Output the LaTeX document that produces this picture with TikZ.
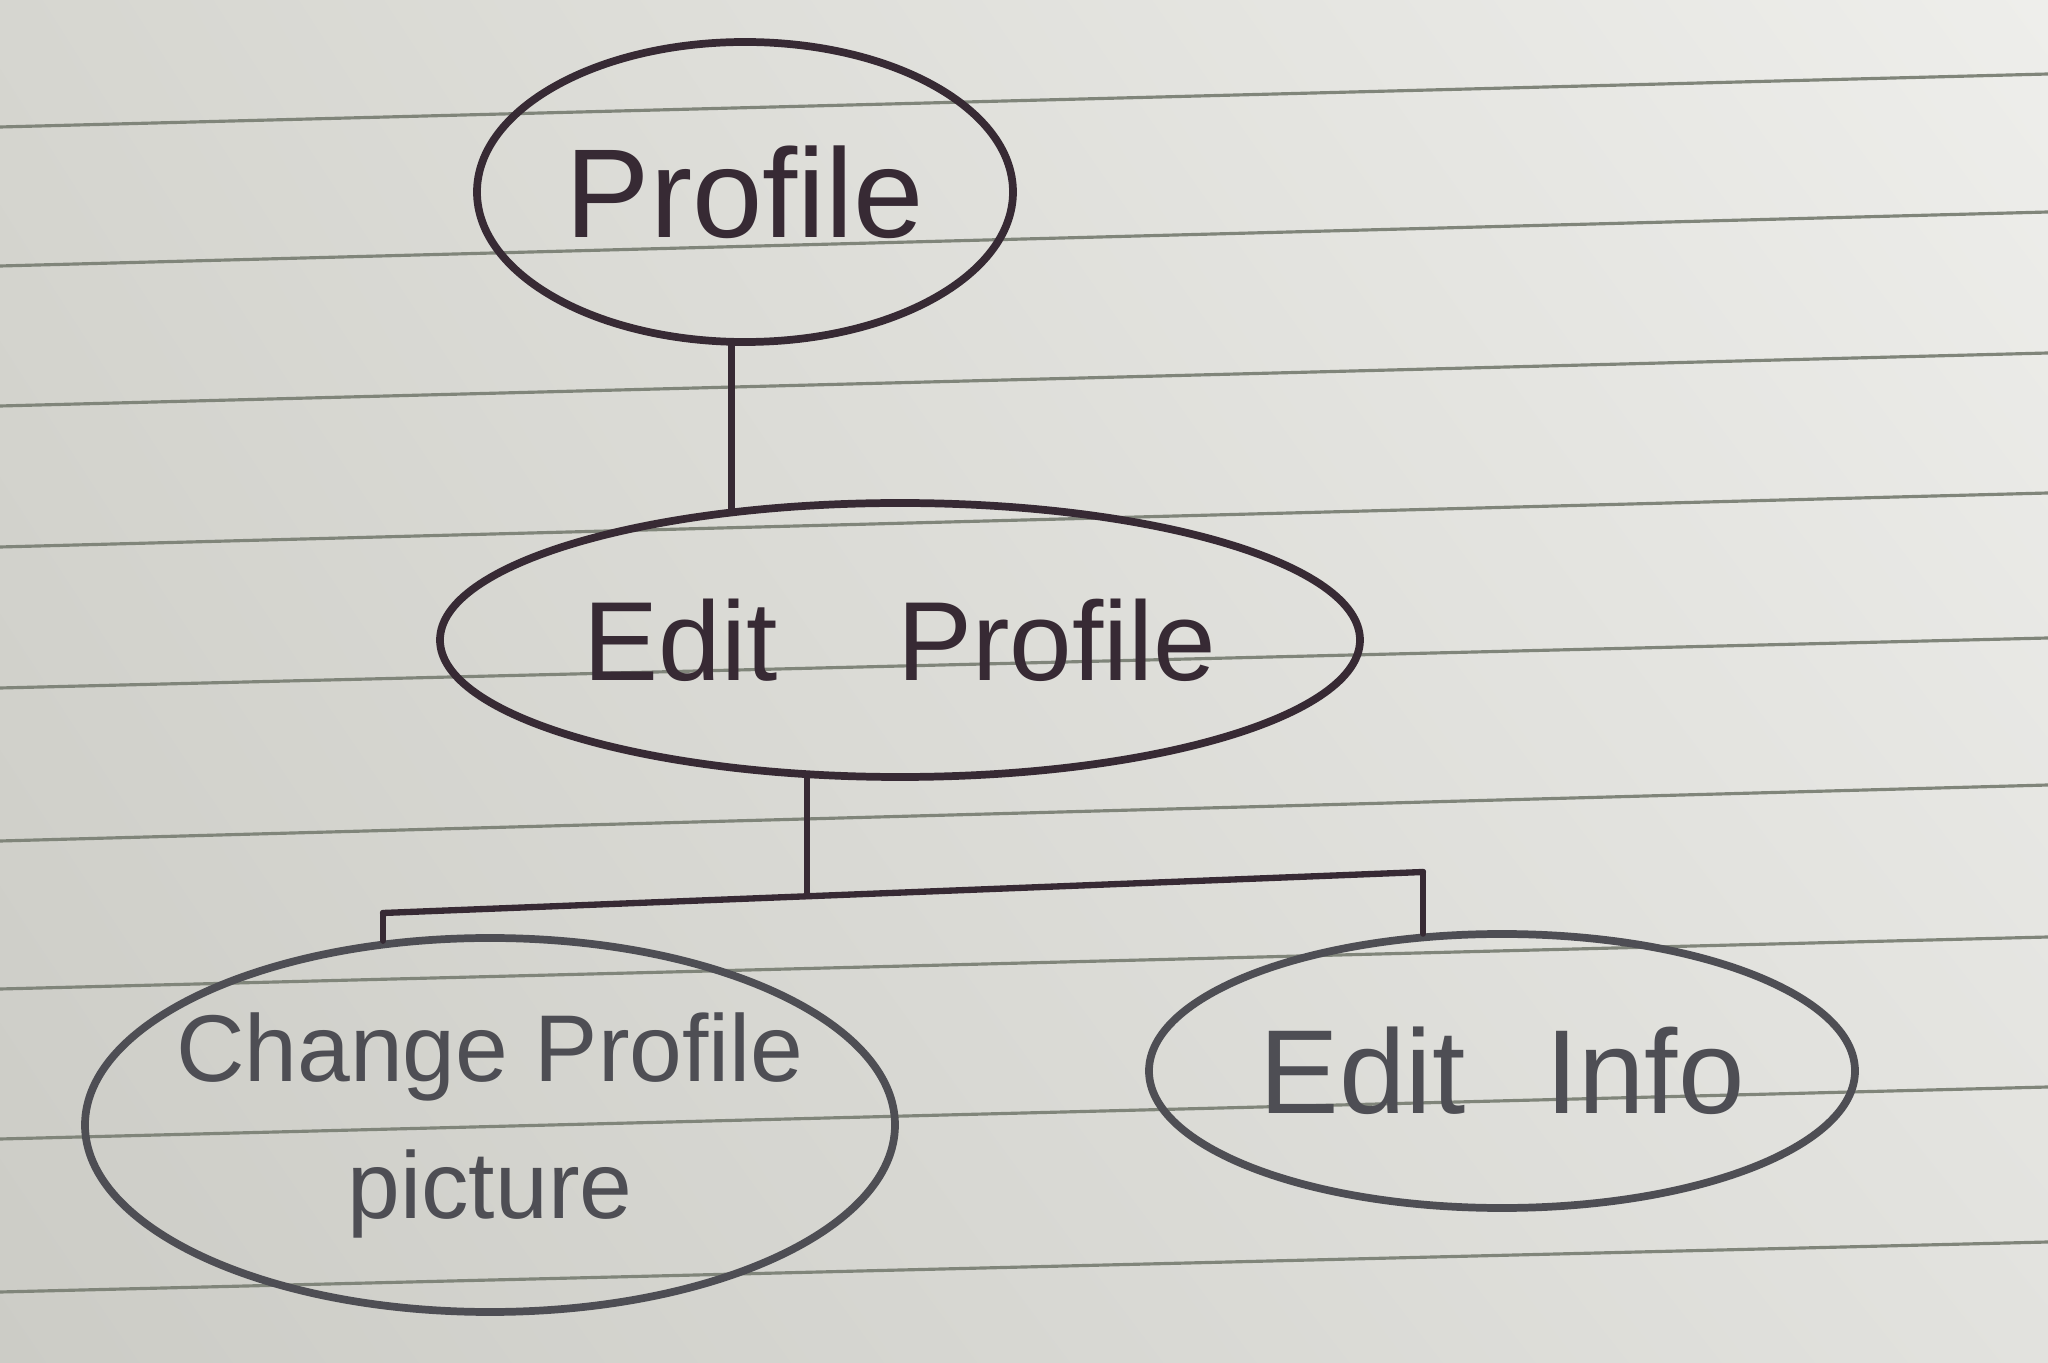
\documentclass[tikz,border=0pt]{standalone}
\usepackage{fontspec}
\setmainfont{Liberation Sans}
\usetikzlibrary{shapes.geometric,shadings}
\definecolor{paperUL}{RGB}{214,214,208}
\definecolor{paperUR}{RGB}{238,238,235}
\definecolor{paperLL}{RGB}{204,204,198}
\definecolor{paperLR}{RGB}{226,226,222}
\definecolor{rulec}{RGB}{128,133,122}
\definecolor{inkA}{RGB}{55,42,52}
\definecolor{inkB}{RGB}{78,78,84}
\begin{document}
\begin{tikzpicture}[
  bubble/.style={ellipse, draw=inkA, line width=2.2pt, inner sep=0pt, inner xsep=-0.5cm, text=inkA, align=center},
  lowbubble/.style={bubble, draw=inkB, text=inkB},
  wire/.style={draw=inkA, line width=1.8pt, line cap=round, line join=round},
  ruled/.style={draw=rulec, line width=0.9pt}
]
\useasboundingbox (0,0) rectangle (20.48,-13.63);
\shade[upper left=paperUL, upper right=paperUR, lower left=paperLL, lower right=paperLR] (0,0) rectangle (20.48,-13.63);
\foreach \a/\b in {1.27/0.74, 2.66/2.12, 4.06/3.53, 5.47/4.93, 6.88/6.38, 8.41/7.85, 9.89/9.37, 11.39/10.87, 12.92/12.42}
  \draw[ruled] (0,-\a) -- (20.48,-\b);

\node[bubble, minimum width=5.36cm, minimum height=3.0cm, font=\fontsize{36}{43}\selectfont] (prof) at (7.45,-1.92) {Profile};
\node[bubble, minimum width=9.2cm, minimum height=2.74cm, font=\fontsize{32}{38}\selectfont] (edit) at (9.0,-6.4) {Edit\hspace{1.2cm}Profile};
\node[lowbubble, minimum width=8.1cm, minimum height=3.74cm, font=\fontsize{27}{39}\selectfont] (chg) at (4.9,-11.25) {Change Profile\\picture};
\node[lowbubble, minimum width=7.06cm, minimum height=2.74cm, font=\fontsize{34}{40}\selectfont] (info) at (15.02,-10.71) {Edit\hspace{0.8cm}Info};

\coordinate (bL) at (3.83,-9.13);
\coordinate (bR) at (14.23,-8.72);
\coordinate (bM) at (edit.236.7 |- 0,-8.96);

\draw[wire] (prof.265) -- (prof.265 |- edit.143);
\draw[wire] (edit.236.7) -- (bM);
\draw[wire] (bL) -- (bR);
\draw[wire] (bL) -- (bL |- chg.120.7);
\draw[wire] (bR) -- (bR |- info.120.5);
\end{tikzpicture}
\end{document}
